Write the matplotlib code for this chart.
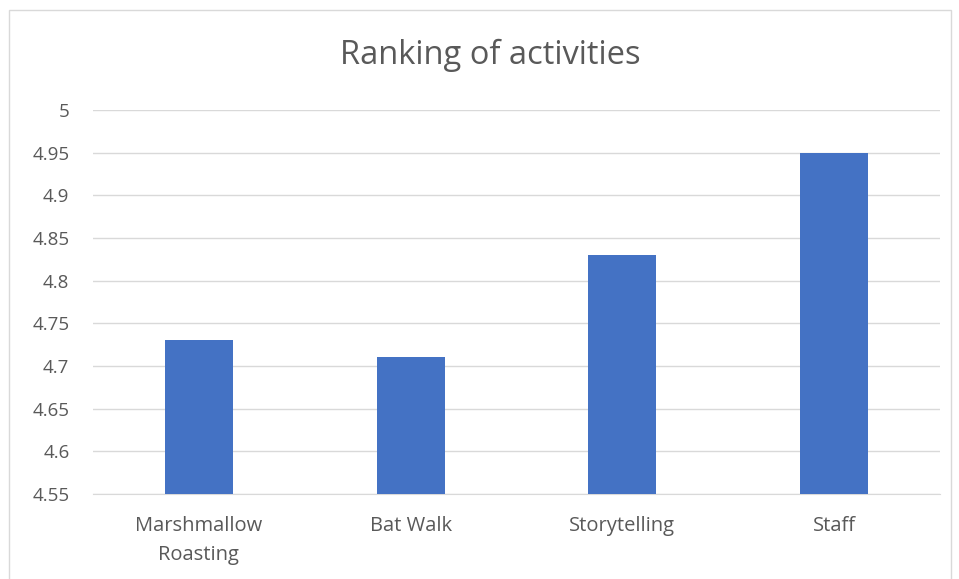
"""Ranking of activities bar chart."""

import matplotlib

matplotlib.use("Agg")
import matplotlib.pyplot as plt
from matplotlib.patches import Rectangle

categories = ["Marshmallow\nRoasting", "Bat Walk", "Storytelling", "Staff"]
scores = [4.73, 4.71, 4.83, 4.95]
y_ticks = [4.55, 4.6, 4.65, 4.7, 4.75, 4.8, 4.85, 4.9, 4.95, 5.0]
y_tick_labels = ["4.55", "4.6", "4.65", "4.7", "4.75", "4.8", "4.85", "4.9", "4.95", "5"]

BAR_BLUE = "#4472C4"
GRID_GRAY = "#D9D9D9"
TEXT_GRAY = "#595959"

plt.rcParams["font.family"] = ["Open Sans", "DejaVu Sans"]

fig = plt.figure(figsize=(9.59, 5.79), dpi=100)
ax = fig.add_axes([93 / 959, 1 - 494 / 579, 847 / 959, 384 / 579])

x = range(len(categories))
ax.bar(x, scores, width=0.32, color=BAR_BLUE, zorder=3)

ax.set_xlim(-0.5, len(categories) - 0.5)
ax.set_ylim(4.55, 5.0)
ax.set_yticks(y_ticks)
ax.set_yticklabels(y_tick_labels, fontsize=13.5, color=TEXT_GRAY)
ax.set_xticks(list(x))
ax.set_xticklabels(categories, fontsize=14.5, color=TEXT_GRAY, linespacing=1.6)
ax.tick_params(axis="y", length=0, pad=17)
ax.tick_params(axis="x", length=0, pad=16)
ax.grid(axis="y", color=GRID_GRAY, linewidth=1, zorder=0)
for side in ("top", "right", "left"):
    ax.spines[side].set_visible(False)
ax.spines["bottom"].set_color(GRID_GRAY)

fig.text(490 / 959, 1 - 55 / 579, "Ranking of activities", fontsize=23.5,
         color=TEXT_GRAY, ha="center", va="center")

fig.patches.append(Rectangle((9 / 959, -0.01), 942 / 959, 1 - 10 / 579 + 0.01,
                             transform=fig.transFigure, fill=False,
                             edgecolor=GRID_GRAY, linewidth=1))

fig.savefig("out.png", dpi=100, facecolor="white")
